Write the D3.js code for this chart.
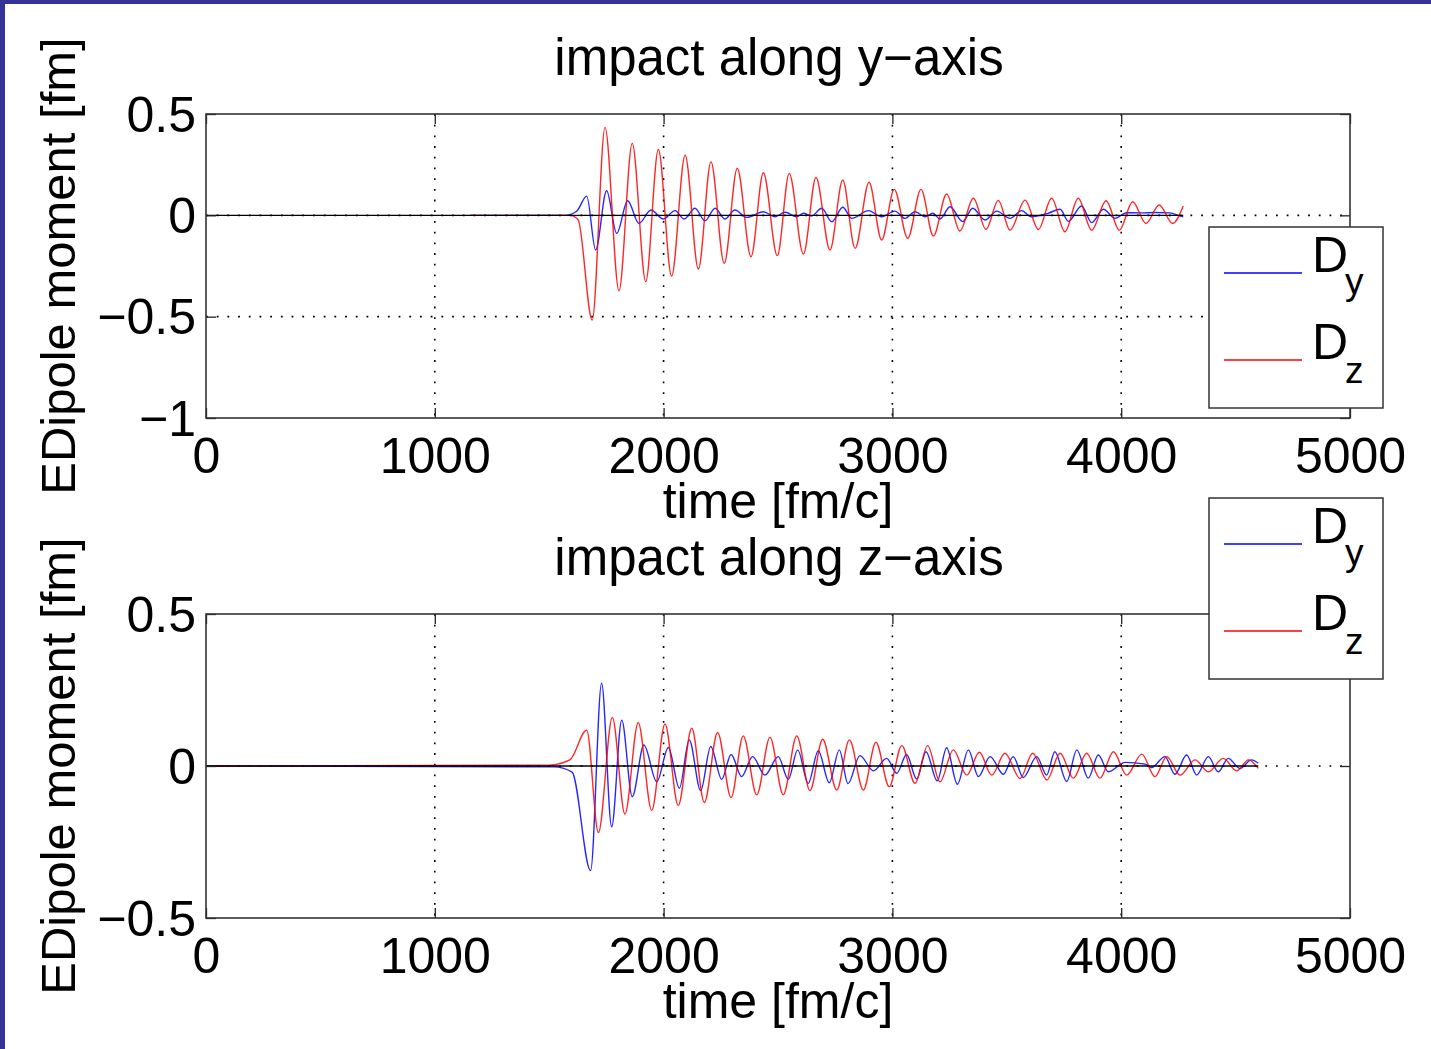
<!DOCTYPE html>
<html>
<head>
<meta charset="utf-8">
<script src="https://cdn.jsdelivr.net/npm/d3@7"></script>
<style>
  body { margin: 0; background: #fff; }
  svg text { font-family: "Liberation Sans", Arial, Helvetica, sans-serif; fill: #000; }
</style>
</head>
<body>
<div id="chart"></div>
<script>
// ---- data (time in fm/c, dipole in fm) ----
const xTicks = [0, 1000, 2000, 3000, 4000, 5000]
const xTickLabels = ["0", "1000", "2000", "3000", "4000", "5000"]
const topYTicks = [0.5, 0, -0.5, -1]
const topYTickLabels = ["0.5", "0", "\u22120.5", "\u22121"]
const botYTicks = [0.5, 0, -0.5]
const botYTickLabels = ["0.5", "0", "\u22120.5"]
const titles = ["impact along y\u2212axis", "impact along z\u2212axis"]
const zeroLineEnd = [4271, 4599]

// impact along y-axis : D_y (blue)
const topDy = [[1154,0],[1570,0],[1620,0.02],[1664,0.095],[1703,-0.171],[1751,0.121],[1795,-0.089],
  [1843,0.072],[1892,-0.04],[1945,0.026],[1999,-0.018],[2050,0.023],[2090,-0.018],[2137,0.035],
  [2181,-0.027],[2225,0.035],[2268,-0.018],[2312,0.026],[2363,-0.01],[2436,0.018],[2487,-0.007],
  [2531,0.015],[2582,-0.007],[2611,0.01],[2647,-0.003],[2691,0.035],[2735,-0.032],[2783,0.04],
  [2823,-0.015],[2895,0.023],[2953,-0.007],[3011,0.021],[3055,-0.015],[3099,0.018],[3143,-0.007],
  [3177,0.01],[3208,-0.018],[3252,0.042],[3307,-0.031],[3351,0.035],[3405,-0.023],[3456,0.021],
  [3514,-0.015],[3565,0.023],[3607,-0.007],[3680,0.01],[3733,0.03],[3769,-0.03],[3827,0.046],
  [3871,-0.036],[3922,0.03],[3973,-0.015],[4024,0.013],[4082,0.012],[4148,0.014],[4213,0.012],
  [4248,0],[4271,-0.008]]

// impact along y-axis : D_z (red)
const topDz = [[1154,0],[1591,0],[1626,-0.02],[1688,-0.517],[1744,0.434],[1805,-0.372],[1863,0.355],
  [1922,-0.327],[1977,0.325],[2035,-0.3],[2094,0.297],[2152,-0.265],[2207,0.264],[2265,-0.237],
  [2322,0.232],[2382,-0.204],[2436,0.21],[2497,-0.199],[2549,0.207],[2611,-0.191],[2666,0.187],
  [2727,-0.171],[2783,0.174],[2837,-0.163],[2898,0.163],[2953,-0.122],[3008,0.128],[3067,-0.113],
  [3125,0.128],[3179,-0.102],[3237,0.105],[3295,-0.077],[3354,0.084],[3409,-0.069],[3463,0.074],
  [3514,-0.073],[3580,0.075],[3638,-0.07],[3696,0.084],[3754,-0.081],[3812,0.084],[3871,-0.073],
  [3934,0.072],[3992,-0.073],[4050,0.067],[4108,-0.04],[4166,0.051],[4225,-0.04],[4271,0.046]]

// impact along z-axis : D_y (blue)
const botDy = [[0,0],[1520,-0.003],[1600,-0.02],[1681,-0.344],[1729,0.272],[1773,-0.2],[1817,0.151],
  [1863,-0.101],[1914,0.069],[1970,-0.052],[2021,0.061],[2069,-0.073],[2112,0.086],[2162,-0.081],
  [2206,0.064],[2254,-0.044],[2295,0.038],[2341,-0.035],[2389,0.031],[2443,-0.03],[2501,0.031],
  [2545,-0.044],[2586,0.053],[2632,-0.057],[2676,0.05],[2724,-0.055],[2768,0.053],[2806,-0.058],
  [2858,0.034],[2917,-0.016],[2975,0.025],[3019,-0.024],[3062,0.038],[3106,-0.043],[3147,0.047],
  [3196,-0.049],[3237,0.06],[3284,-0.06],[3332,0.053],[3376,-0.035],[3427,0.031],[3485,-0.027],
  [3528,0.031],[3572,-0.038],[3631,0.031],[3674,-0.03],[3710,0.047],[3762,-0.051],[3806,0.053],
  [3856,-0.04],[3900,0.036],[3944,-0.019],[4017,0.012],[4104,0.006],[4133,-0.005],[4191,0.031],
  [4235,-0.027],[4286,0.036],[4330,-0.03],[4381,0.031],[4424,-0.019],[4468,0.025],[4519,-0.008],
  [4569,0.02],[4599,0.009]]

// impact along z-axis : D_z (red)
const botDz = [[0,0],[1500,0.003],[1590,0.02],[1664,0.118],[1715,-0.219],[1776,0.16],[1831,-0.158],
  [1889,0.143],[1948,-0.146],[2006,0.138],[2064,-0.13],[2123,0.124],[2178,-0.12],[2236,0.11],
  [2295,-0.104],[2348,0.099],[2407,-0.095],[2465,0.094],[2523,-0.095],[2582,0.099],[2640,-0.081],
  [2695,0.088],[2757,-0.079],[2812,0.086],[2873,-0.079],[2928,0.078],[2986,-0.068],[3041,0.067],
  [3099,-0.057],[3154,0.067],[3208,-0.052],[3266,0.053],[3325,-0.03],[3380,0.045],[3434,-0.03],
  [3492,0.042],[3558,-0.041],[3613,0.042],[3675,-0.046],[3733,0.042],[3791,-0.04],[3849,0.042],
  [3907,-0.04],[3966,0.047],[4024,-0.03],[4090,0.039],[4148,-0.035],[4199,0.031],[4257,-0.03],
  [4323,0.02],[4381,-0.019],[4446,0.025],[4505,-0.016],[4556,0.02],[4599,-0.008]]

// ---- layout ----
const width = 1431, height = 1049
const blue = "#0000ff", red = "#ff0000"

const svg = d3.select("#chart").append("svg")
  .attr("width", width)
  .attr("height", height)

svg.append("rect").attr("width", width).attr("height", height).attr("fill", "#fff")

const x = d3.scaleLinear().domain([0, 5000]).range([206, 1350])

const panels = [
  { y: d3.scaleLinear().domain([-1, 0.5]).range([418, 114]), ticks: topYTicks, labels: topYTickLabels,
    series: [topDy, topDz], title: titles[0], zeroEnd: zeroLineEnd[0], legendTop: 227 },
  { y: d3.scaleLinear().domain([-0.5, 0.5]).range([918, 614]), ticks: botYTicks, labels: botYTickLabels,
    series: [botDy, botDz], title: titles[1], zeroEnd: zeroLineEnd[1], legendTop: 498 }
]

panels.forEach(p => {
  const y = p.y
  const [y0, y1] = y.range()
  const g = svg.append("g")

  // dotted grid
  g.append("g").selectAll("line")
    .data(xTicks.slice(1, -1))
    .join("line")
    .attr("x1", d => x(d)).attr("x2", d => x(d))
    .attr("y1", y1).attr("y2", y0)
  g.append("g").selectAll("line")
    .data(p.ticks.filter(t => t !== y.domain()[0] && t !== y.domain()[1]))
    .join("line")
    .attr("x1", x.range()[0]).attr("x2", x.range()[1])
    .attr("y1", d => y(d)).attr("y2", d => y(d))
  g.selectAll("g line")
    .attr("stroke", "#000")
    .attr("stroke-width", 1.6)
    .attr("stroke-dasharray", "1.8 8.9")

  // series
  const line = d3.line()
    .x(d => x(d[0]))
    .y(d => y(d[1]))
    .curve(d3.curveMonotoneX)

  p.series.forEach((s, i) => {
    g.append("path")
      .datum(s)
      .attr("d", line)
      .attr("fill", "none")
      .attr("stroke", i === 0 ? blue : red)
      .attr("stroke-width", 1.4)
      .attr("stroke-opacity", 0.85)
  })

  // solid zero line drawn with the data
  g.append("path")
    .datum([[0, 0], [p.zeroEnd, 0]])
    .attr("d", d3.line().x(d => x(d[0])).y(d => y(d[1])))
    .attr("stroke", "#000")
    .attr("stroke-width", 1.4)

  // axes (ticks inside the box)
  const fmtX = (d, i) => xTickLabels[i]
  const fmtY = (d, i) => p.labels[i]

  const axB = g.append("g").attr("transform", `translate(0,${y0})`)
    .call(d3.axisBottom(x).tickValues(xTicks).tickFormat(fmtX).tickSize(-10).tickPadding(19))
  const axT = g.append("g").attr("transform", `translate(0,${y1})`)
    .call(d3.axisTop(x).tickValues(xTicks).tickFormat("").tickSize(-10))
  const axL = g.append("g").attr("transform", `translate(${x.range()[0]},0)`)
    .call(d3.axisLeft(y).tickValues(p.ticks).tickFormat(fmtY).tickSize(-10).tickPadding(10))
  const axR = g.append("g").attr("transform", `translate(${x.range()[1]},0)`)
    .call(d3.axisRight(y).tickValues(p.ticks).tickFormat("").tickSize(-10))

  ;[axB, axT, axL, axR].forEach(a => {
    a.select(".domain").remove()
    a.selectAll(".tick line").attr("stroke", "#222").attr("stroke-width", 1.3)
    a.selectAll("text").attr("font-size", 50).attr("font-family", null).attr("fill", "#000")
  })
  axL.selectAll("text").attr("dy", "0.34em")

  g.append("rect")
    .attr("x", x.range()[0]).attr("y", y1)
    .attr("width", x.range()[1] - x.range()[0]).attr("height", y0 - y1)
    .attr("fill", "none")
    .attr("stroke", "#333")
    .attr("stroke-width", 1.6)

  // titles and labels
  g.append("text")
    .attr("x", 779).attr("y", y1 - 39)
    .attr("text-anchor", "middle")
    .attr("font-size", 51)
    .text(p.title)
  g.append("text")
    .attr("x", 778).attr("y", y0 + 100)
    .attr("text-anchor", "middle")
    .attr("font-size", 50)
    .text("time [fm/c]")
  g.append("text")
    .attr("transform", `translate(75,${(y0 + y1) / 2}) rotate(-90)`)
    .attr("text-anchor", "middle")
    .attr("font-size", 49)
    .text("EDipole moment [fm]")

  // legend
  const lg = svg.append("g").attr("transform", `translate(1209,${p.legendTop})`)
  lg.append("rect")
    .attr("width", 174).attr("height", 181)
    .attr("fill", "#fff")
    .attr("stroke", "#333")
    .attr("stroke-width", 1.5)
  const entries = [["y", blue, 46], ["z", red, 133]]
  entries.forEach(([sub, col, ly]) => {
    lg.append("line")
      .attr("x1", 15).attr("x2", 93)
      .attr("y1", ly).attr("y2", ly)
      .attr("stroke", col)
      .attr("stroke-width", 1.6)
    lg.append("text")
      .attr("x", 103).attr("y", ly - 1)
      .attr("font-size", 50)
      .text("D")
    lg.append("text")
      .attr("x", 136).attr("y", ly + (sub === "y" ? 21 : 23))
      .attr("font-size", 37)
      .text(sub)
  })
})

// slide frame
svg.append("rect").attr("x", 0).attr("y", 0).attr("width", width).attr("height", 4).attr("fill", "#333399")
svg.append("rect").attr("x", 0).attr("y", 0).attr("width", 5).attr("height", height).attr("fill", "#333399")
</script>
</body>
</html>
